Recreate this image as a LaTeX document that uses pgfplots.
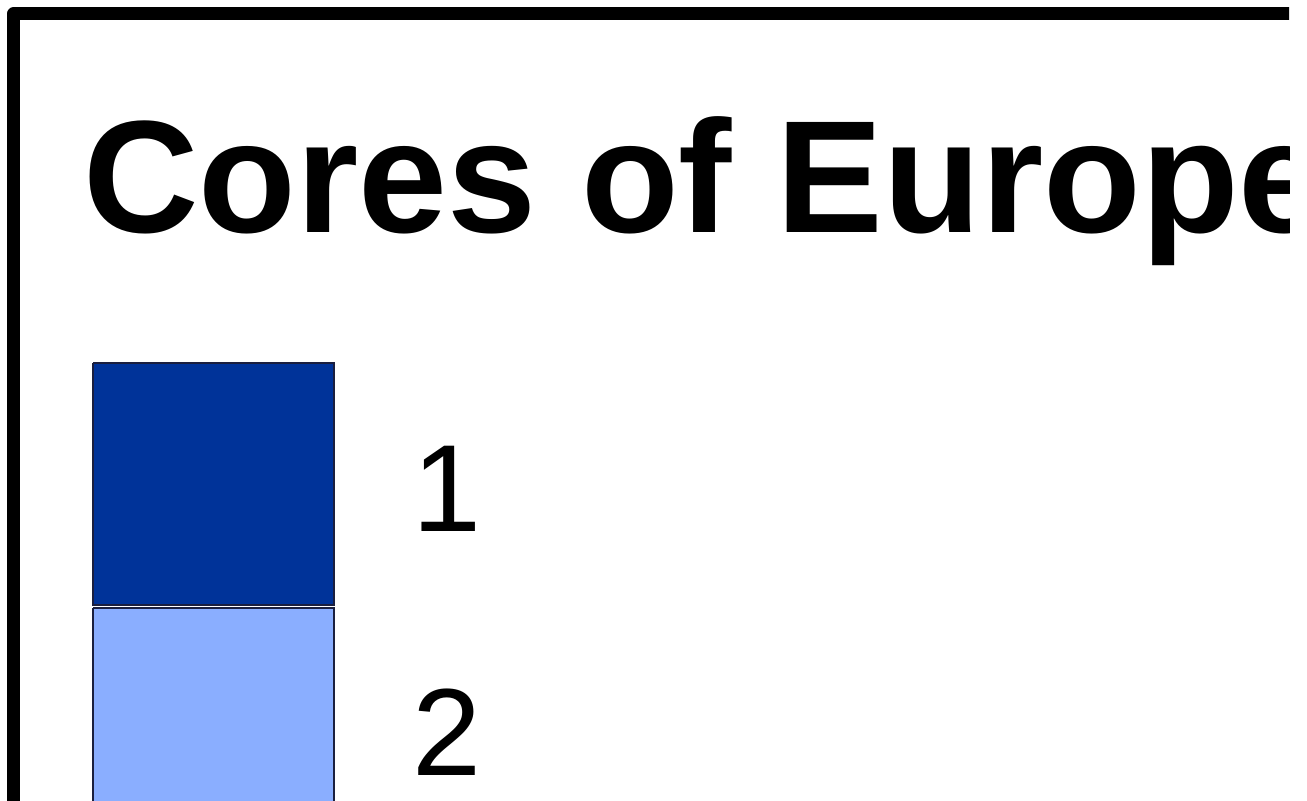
\documentclass[border=0pt]{standalone}
\usepackage{fontspec}
\setmainfont{Liberation Sans}
\usepackage{pgfplots}
\pgfplotsset{compat=1.18}
\definecolor{coreone}{HTML}{003399}
\definecolor{coretwo}{HTML}{8AAEFF}
\definecolor{boxedge}{HTML}{1A1F3F}
\begin{document}
\begin{tikzpicture}
\useasboundingbox (0,0) rectangle (653.5pt,400.5pt);
\clip (0,0) rectangle (644.5pt,400.5pt);
\begin{axis}[
  at={(0,0)}, anchor=south west,
  scale only axis, width=653.5pt, height=400.5pt,
  xmin=0, xmax=1307, ymin=0, ymax=801, y dir=reverse,
  hide axis, clip=false,
]
% frame of the chart
\addplot[black, line width=6.5pt, line join=round] coordinates {(13.5,900) (13.5,14) (1340,14)};
% legend swatches
\addplot[fill=coreone, draw=boxedge, line width=0.6pt] coordinates {(93,363) (334,363) (334,605) (93,605) (93,363)};
\addplot[fill=coretwo, draw=boxedge, line width=0.6pt] coordinates {(93,608) (334,608) (334,900) (93,900) (93,608)};
\node[anchor=base west, inner sep=0pt, font=\fontsize{80}{80}\selectfont\bfseries] at (axis cs:83,233) {Cores of Europe};
\node[anchor=base west, inner sep=0pt, font=\fontsize{62}{62}\selectfont] at (axis cs:412,531) {1};
\node[anchor=base west, inner sep=0pt, font=\fontsize{62}{62}\selectfont] at (axis cs:412,775) {2};
\end{axis}
\end{tikzpicture}
\end{document}
